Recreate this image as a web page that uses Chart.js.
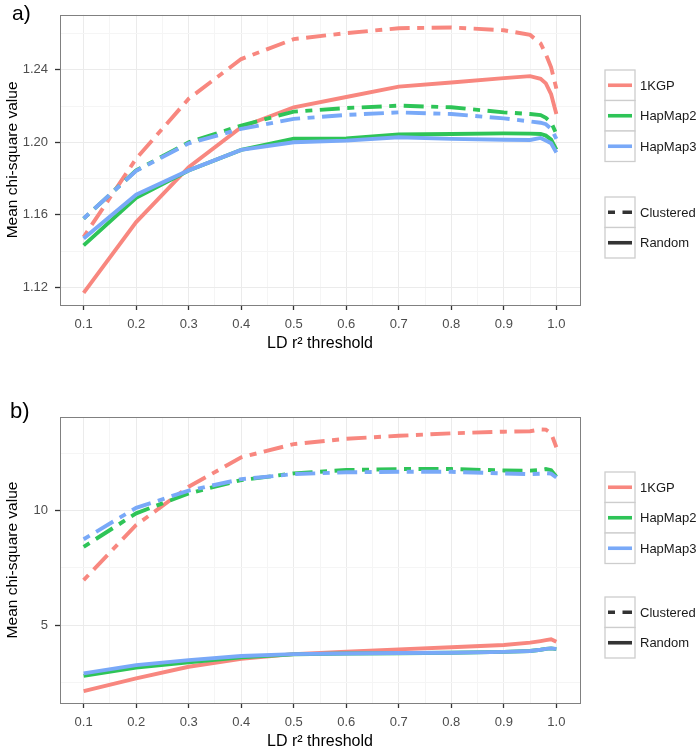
<!DOCTYPE html>
<html>
<head>
<meta charset="utf-8">
<script src="https://cdn.jsdelivr.net/npm/chart.js@4.4.0/dist/chart.umd.min.js"></script>
<style>
  body { margin: 0; background: #fff; }
  .panel { position: absolute; left: 0; width: 697px; }
</style>
</head>
<body>
<div class="panel" style="top:0;height:370px"><canvas id="chartA"></canvas></div>
<div class="panel" style="top:370px;height:381px"><canvas id="chartB"></canvas></div>
<script>
const thresholds = [0.1, 0.2, 0.3, 0.4, 0.5, 0.6, 0.7, 0.8, 0.9, 0.95, 0.97, 0.98, 0.99, 1.0];

const seriesNames = ["1KGP", "HapMap2", "HapMap3"];
const seriesColors = ["#F8877F", "#2EC457", "#79A9F8"];
const styleNames = ["Clustered", "Random"];

// panel a) values
const kgpClusA = [1.1478, 1.1910, 1.2240, 1.2459, 1.2569, 1.2602, 1.2629, 1.2633, 1.2618, 1.2592, 1.2545, 1.2486, 1.2413, 1.2296];
const hm2ClusA = [1.1579, 1.1845, 1.2000, 1.2092, 1.2169, 1.2189, 1.2202, 1.2193, 1.2165, 1.2156, 1.2150, 1.2135, 1.2110, 1.2046];
const hm3ClusA = [1.1580, 1.1843, 1.1994, 1.2074, 1.2129, 1.2151, 1.2165, 1.2156, 1.2132, 1.2115, 1.2108, 1.2100, 1.2075, 1.2019];
const kgpRandA = [1.1170, 1.1560, 1.1863, 1.2083, 1.2193, 1.2250, 1.2307, 1.2330, 1.2354, 1.2365, 1.2350, 1.2325, 1.2265, 1.2156];
const hm2RandA = [1.1432, 1.1694, 1.1845, 1.1958, 1.2020, 1.2021, 1.2043, 1.2046, 1.2049, 1.2048, 1.2046, 1.2037, 1.2015, 1.1960];
const hm3RandA = [1.1469, 1.1711, 1.1845, 1.1958, 1.2000, 1.2009, 1.2028, 1.2019, 1.2014, 1.2013, 1.2024, 1.2010, 1.1995, 1.1944];

// panel b) values
const kgpClusB = [6.96, 9.36, 11.03, 12.31, 12.89, 13.12, 13.25, 13.36, 13.43, 13.45, 13.53, 13.52, 13.36, 12.75];
const hm2ClusB = [8.41, 9.87, 10.74, 11.32, 11.61, 11.76, 11.80, 11.80, 11.74, 11.73, 11.76, 11.80, 11.75, 11.47];
const hm3ClusB = [8.74, 10.11, 10.86, 11.36, 11.58, 11.66, 11.68, 11.68, 11.61, 11.58, 11.60, 11.62, 11.60, 11.43];
const kgpRandB = [2.12, 2.67, 3.18, 3.53, 3.73, 3.84, 3.94, 4.03, 4.13, 4.23, 4.30, 4.34, 4.38, 4.27];
const hm2RandB = [2.78, 3.14, 3.37, 3.59, 3.72, 3.76, 3.77, 3.79, 3.83, 3.87, 3.92, 3.96, 3.98, 3.95];
const hm3RandB = [2.89, 3.25, 3.47, 3.65, 3.73, 3.76, 3.78, 3.79, 3.83, 3.87, 3.92, 3.96, 3.98, 3.96];

const xMajor = [0.1, 0.2, 0.3, 0.4, 0.5, 0.6, 0.7, 0.8, 0.9, 1.0];
const xMinor = [0.15, 0.25, 0.35, 0.45, 0.55, 0.65, 0.75, 0.85, 0.95];
const yMajorA = [1.12, 1.16, 1.20, 1.24];
const yMinorA = [1.14, 1.18, 1.22, 1.26];
const yMajorB = [5, 10];
const yMinorB = [2.5, 7.5, 12.5];

const FONT = '"Liberation Sans", Arial, sans-serif';
const twodash = [7, 7.5, 20, 7.5];

const isIn = (list, v) => list.some(t => Math.abs(t - v) < 1e-9);

function drawKey(ctx, x, y, w, h, color, dash) {
  ctx.fillStyle = "#fff";
  ctx.fillRect(x, y, w, h);
  ctx.strokeStyle = "#cdcdcd";
  ctx.lineWidth = 1.3;
  ctx.setLineDash([]);
  ctx.strokeRect(x, y, w, h);
  ctx.strokeStyle = color;
  ctx.lineWidth = 3.6;
  ctx.setLineDash(dash);
  ctx.beginPath();
  ctx.moveTo(x + 3, y + h / 2);
  ctx.lineTo(x + w - 3, y + h / 2);
  ctx.stroke();
  ctx.setLineDash([]);
}

const panelDecor = {
  id: "panelDecor",
  afterDatasetsDraw(chart) {
    const { ctx, chartArea: a } = chart;
    ctx.save();
    ctx.strokeStyle = "#808080";
    ctx.lineWidth = 1;
    ctx.strokeRect(Math.round(a.left) + 0.5, Math.round(a.top) + 0.5, Math.round(a.width), Math.round(a.height));
    ctx.restore();
  },
  afterDraw(chart, args, o) {
    const ctx = chart.ctx;
    ctx.save();
    ctx.fillStyle = "#000";
    ctx.font = o.tagSize + "px " + FONT;
    ctx.textBaseline = "alphabetic";
    ctx.fillText(o.tag, o.tagX, o.tagY);

    const kx = 605, kw = 30, kh = 30.5;
    ctx.font = "13px " + FONT;
    seriesNames.forEach((name, i) => {
      const y = o.colorTop + i * kh;
      drawKey(ctx, kx, y, kw, kh, seriesColors[i], []);
      ctx.fillStyle = "#1a1a1a";
      ctx.textBaseline = "middle";
      ctx.fillText(name, kx + kw + 5, y + kh / 2 + 1);
    });
    styleNames.forEach((name, i) => {
      const y = o.styleTop + i * kh;
      drawKey(ctx, kx, y, kw, kh, "#333", i === 0 ? twodash : []);
      ctx.fillStyle = "#1a1a1a";
      ctx.textBaseline = "middle";
      ctx.fillText(name, kx + kw + 5, y + kh / 2 + 1);
    });
    ctx.restore();
  }
};

function makeChart(id, clus, rand, yMin, yMax, yMajor, yMinor, yDigits, decor, padTop, padBottom) {
  const datasets = [];
  // HapMap3 drawn last (on top), like the reference
  [2, 1, 0].forEach((i, k) => {
    datasets.push({
      label: seriesNames[i] + " Clustered",
      data: thresholds.map((x, j) => ({ x: x, y: clus[i][j] })),
      borderColor: seriesColors[i],
      borderWidth: 3.9,
      borderDash: twodash,
      pointRadius: 0,
      tension: 0,
      order: k * 2
    });
    datasets.push({
      label: seriesNames[i] + " Random",
      data: thresholds.map((x, j) => ({ x: x, y: rand[i][j] })),
      borderColor: seriesColors[i],
      borderWidth: 3.9,
      pointRadius: 0,
      tension: 0,
      order: k * 2 + 1
    });
  });

  return new Chart(document.getElementById(id), {
    type: "line",
    data: { datasets: datasets },
    options: {
      responsive: true,
      maintainAspectRatio: false,
      animation: false,
      layout: { padding: { top: padTop, right: 117, bottom: padBottom, left: 0 } },
      plugins: {
        legend: { display: false },
        tooltip: { enabled: false },
        panelDecor: decor
      },
      scales: {
        x: {
          type: "linear",
          min: 0.055,
          max: 1.045,
          afterBuildTicks: s => { s.ticks = xMajor.concat(xMinor).sort((a, b) => a - b).map(v => ({ value: v })); },
          afterFit: s => { s.height = 48; },
          border: { display: false },
          grid: {
            color: c => (c.tick && isIn(xMajor, c.tick.value)) ? "#ebebeb" : "#f5f5f5",
            tickColor: c => (c.tick && isIn(xMajor, c.tick.value)) ? "#333" : "rgba(0,0,0,0)",
            tickLength: 5,
            tickWidth: 1.3
          },
          ticks: {
            autoSkip: false,
            maxRotation: 0,
            padding: 7,
            color: "#4d4d4d",
            font: { family: FONT, size: 13 },
            callback: v => isIn(xMajor, v) ? v.toFixed(1) : ""
          },
          title: {
            display: true,
            text: "LD r² threshold",
            color: "#000",
            font: { family: FONT, size: 16, lineHeight: 1 },
            padding: { top: 0, bottom: 1 }
          }
        },
        y: {
          min: yMin,
          max: yMax,
          afterBuildTicks: s => { s.ticks = yMajor.concat(yMinor).sort((a, b) => a - b).map(v => ({ value: v })); },
          afterFit: s => { s.width = 60; },
          border: { display: false },
          grid: {
            color: c => (c.tick && isIn(yMajor, c.tick.value)) ? "#ebebeb" : "#f5f5f5",
            tickColor: c => (c.tick && isIn(yMajor, c.tick.value)) ? "#333" : "rgba(0,0,0,0)",
            tickLength: 5,
            tickWidth: 1.3
          },
          ticks: {
            autoSkip: false,
            padding: 7,
            color: "#4d4d4d",
            font: { family: FONT, size: 13 },
            callback: v => isIn(yMajor, v) ? v.toFixed(yDigits) : ""
          },
          title: {
            display: true,
            text: "Mean chi-square value",
            color: "#000",
            font: { family: FONT, size: 15.5 },
            padding: { top: 3, bottom: 0 }
          }
        }
      }
    },
    plugins: [panelDecor]
  });
}

makeChart("chartA",
  [kgpClusA, hm2ClusA, hm3ClusA], [kgpRandA, hm2RandA, hm3RandA],
  1.1103, 1.2703, yMajorA, yMinorA, 2,
  { tag: "a)", tagSize: 21, tagX: 12, tagY: 20, colorTop: 70, styleTop: 197 },
  14, 17);

makeChart("chartB",
  [kgpClusB, hm2ClusB, hm3ClusB], [kgpRandB, hm2RandB, hm3RandB],
  1.60, 14.07, yMajorB, yMinorB, 0,
  { tag: "b)", tagSize: 22, tagX: 10, tagY: 48, colorTop: 102, styleTop: 227 },
  47, 0);
</script>
</body>
</html>
